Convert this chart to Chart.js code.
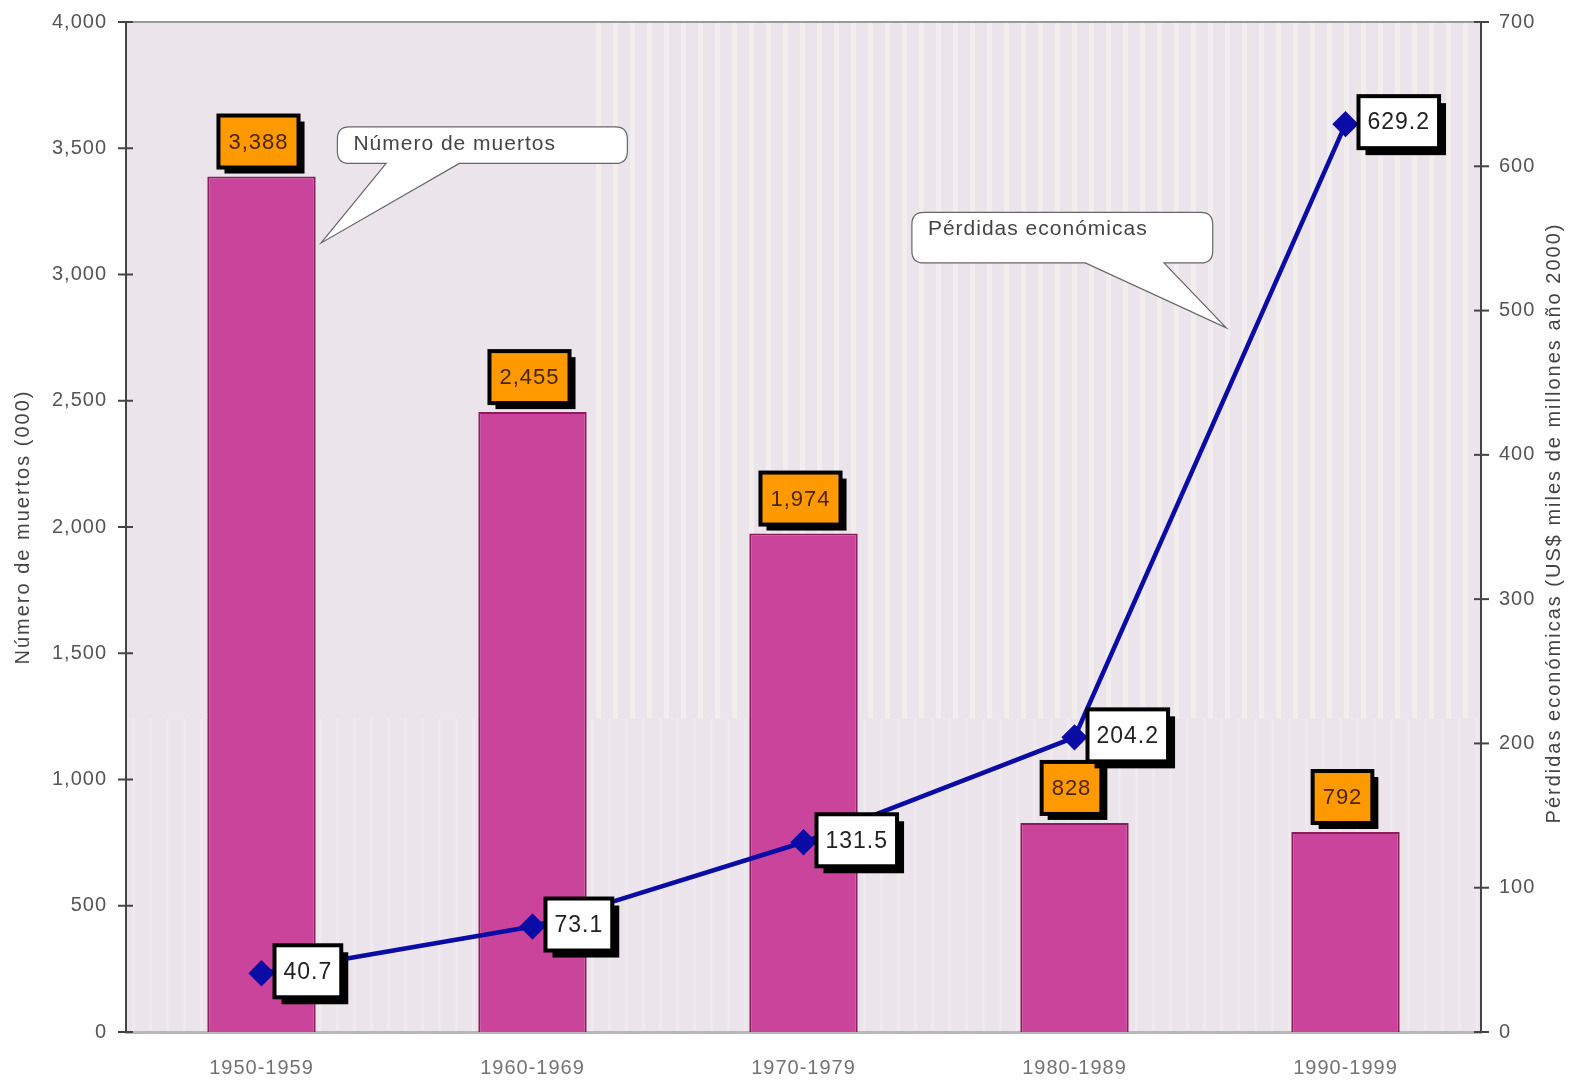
<!DOCTYPE html>
<html>
<head>
<meta charset="utf-8">
<script src="https://cdn.jsdelivr.net/npm/chart.js@4.4.1/dist/chart.umd.min.js"></script>
<style>
  html, body { margin: 0; padding: 0; background: #fff; }
  canvas { display: block; }
</style>
</head>
<body>
<canvas id="desastres" width="1575" height="1080"></canvas>
<script>
const categories = ['1950-1959', '1960-1969', '1970-1979', '1980-1989', '1990-1999'];
const muertos = [3388, 2455, 1974, 828, 792];            // miles
const perdidas = [40.7, 73.1, 131.5, 204.2, 629.2];      // US$ miles de millones
const muertosTicks = [0, 500, 1000, 1500, 2000, 2500, 3000, 3500, 4000];
const perdidasTicks = [0, 100, 200, 300, 400, 500, 600, 700];

const FONT = "'Liberation Sans', Arial, sans-serif";

// globos de texto: posición en unidades de categoría (x) y de valor del eje (y)
const globos = [
  { text: 'Número de muertos', axis: 'y', x0: 0.28, x1: 1.35, yTop: 3585, yBot: 3440,
    base0: 0.46, base1: 0.73, tipX: 0.22, tipY: 3125 },
  { text: 'Pérdidas económicas', axis: 'y1', x0: 2.40, x1: 3.51, yTop: 568, yBot: 533,
    base0: 3.04, base1: 3.33, tipX: 3.56, tipY: 488 }
];

function caja(ctx, x, y, w, h, fill, shadow) {
  ctx.fillStyle = '#000';
  ctx.fillRect(x + shadow, y + shadow, w, h);
  ctx.fillStyle = fill;
  ctx.fillRect(x, y, w, h);
  ctx.lineWidth = 4;
  ctx.strokeStyle = '#000';
  ctx.strokeRect(x, y, w, h);
}

const decor = {
  id: 'decor',
  beforeDraw(chart) {
    const { ctx, chartArea: a } = chart;
    ctx.save();
    ctx.fillStyle = '#ebe5eb';
    ctx.fillRect(a.left, a.top, a.width, a.height);
    // franjas verticales claras en la parte derecha
    ctx.fillStyle = 'rgba(250,248,240,0.5)';
    for (let x = a.left + 470; x < a.right; x += 17) {
      ctx.fillRect(x, a.top, 5, a.height * 0.69);
    }
    // trama inferior
    ctx.fillStyle = 'rgba(250,250,250,0.25)';
    for (let x = a.left + 6; x < a.right; x += 17) {
      ctx.fillRect(x, a.top + a.height * 0.69, 3, a.height * 0.31);
    }
    ctx.restore();
    ctx.letterSpacing = '1px';
  },
  afterDatasetsDraw(chart) {
    const { ctx, chartArea: a, scales } = chart;
    const xs = scales.x, yl = scales.y, yr = scales.y1;
    ctx.save();

    // borde superior del área
    ctx.strokeStyle = '#9a9a9a';
    ctx.lineWidth = 2;
    ctx.beginPath(); ctx.moveTo(a.left, a.top); ctx.lineTo(a.right, a.top); ctx.stroke();

    // marcas cruzadas en los ejes
    ctx.strokeStyle = '#444';
    ctx.lineWidth = 2;
    muertosTicks.forEach(v => {
      const py = yl.getPixelForValue(v);
      ctx.beginPath(); ctx.moveTo(a.left - 8, py); ctx.lineTo(a.left + 7, py); ctx.stroke();
    });
    perdidasTicks.forEach(v => {
      const py = yr.getPixelForValue(v);
      ctx.beginPath(); ctx.moveTo(a.right - 7, py); ctx.lineTo(a.right + 8, py); ctx.stroke();
    });

    // globos
    const idx = i => xs.getPixelForValue(0) + i * (xs.getPixelForValue(1) - xs.getPixelForValue(0));
    globos.forEach(g => {
      const ys = scales[g.axis];
      const l = idx(g.x0), r = idx(g.x1), t = ys.getPixelForValue(g.yTop), b = ys.getPixelForValue(g.yBot);
      const rad = 12;
      ctx.beginPath();
      ctx.moveTo(l + rad, t);
      ctx.lineTo(r - rad, t);
      ctx.quadraticCurveTo(r, t, r, t + rad);
      ctx.lineTo(r, b - rad);
      ctx.quadraticCurveTo(r, b, r - rad, b);
      ctx.lineTo(idx(g.base1), b);
      ctx.lineTo(idx(g.tipX), ys.getPixelForValue(g.tipY));
      ctx.lineTo(idx(g.base0), b);
      ctx.lineTo(l + rad, b);
      ctx.quadraticCurveTo(l, b, l, b - rad);
      ctx.lineTo(l, t + rad);
      ctx.quadraticCurveTo(l, t, l + rad, t);
      ctx.closePath();
      ctx.fillStyle = '#fff';
      ctx.fill();
      ctx.strokeStyle = '#666';
      ctx.lineWidth = 1.2;
      ctx.stroke();
      ctx.fillStyle = '#444';
      ctx.font = '21px ' + FONT;
      ctx.textAlign = 'left';
      ctx.textBaseline = 'middle';
      ctx.fillText(g.text, l + 16, t + 17);
    });

    // etiquetas de las barras
    ctx.font = '22px ' + FONT;
    ctx.textAlign = 'center';
    ctx.textBaseline = 'middle';
    chart.getDatasetMeta(0).data.forEach((el, i) => {
      const txt = muertos[i].toLocaleString('en-US');
      const w = ctx.measureText(txt).width + 20, h = 52;
      const bx = el.x - w / 2 - 3, by = el.y - h - 9;
      caja(ctx, bx, by, w, h, '#ff9900', 6);
      ctx.fillStyle = '#4a2600';
      ctx.fillText(txt, bx + w / 2, by + h / 2 + 1);
    });

    // etiquetas de la línea
    ctx.font = '23px ' + FONT;
    chart.getDatasetMeta(1).data.forEach((el, i) => {
      const txt = perdidas[i].toFixed(1);
      const w = ctx.measureText(txt).width + 18, h = 52;
      const bx = el.x + 13, by = el.y - h / 2 - 2;
      caja(ctx, bx, by, w, h, '#fff', 7);
      ctx.fillStyle = '#222';
      ctx.fillText(txt, bx + w / 2, by + h / 2 + 1);
    });

    // títulos de los ejes
    ctx.fillStyle = '#444';
    ctx.font = '20px ' + FONT;
    ctx.letterSpacing = '2px';
    ctx.textAlign = 'center';
    const cy = (a.top + a.bottom) / 2;
    ctx.save();
    ctx.translate(23, cy); ctx.rotate(-Math.PI / 2);
    ctx.fillText('Número de muertos (000)', 0, 0);
    ctx.restore();
    ctx.save();
    ctx.translate(1554, cy - 4); ctx.rotate(-Math.PI / 2);
    ctx.fillText('Pérdidas económicas (US$ miles de millones año 2000)', 0, 0);
    ctx.restore();

    ctx.restore();
  }
};

const ajustarY = w => s => { s.width = w; s.paddingTop = 0; s.paddingBottom = 0; };

new Chart(document.getElementById('desastres').getContext('2d'), {
  data: {
    labels: categories,
    datasets: [
      {
        type: 'bar',
        label: 'Número de muertos',
        data: muertos,
        yAxisID: 'y',
        backgroundColor: '#c9449a',
        borderColor: '#8a1d5c',
        borderWidth: 2,
        barPercentage: 0.4,
        categoryPercentage: 1,
        order: 2
      },
      {
        type: 'line',
        label: 'Pérdidas económicas',
        data: perdidas,
        yAxisID: 'y1',
        borderColor: '#0b0ba6',
        backgroundColor: '#0b0ba6',
        borderWidth: 4.5,
        pointStyle: 'rectRot',
        pointRadius: 10,
        pointHoverRadius: 10,
        tension: 0,
        order: 1
      }
    ]
  },
  options: {
    responsive: false,
    animation: false,
    devicePixelRatio: 1,
    layout: { padding: { top: 22, left: 0, right: 0, bottom: 0 } },
    plugins: { legend: { display: false }, tooltip: { enabled: false } },
    scales: {
      x: {
        type: 'category',
        offset: true,
        grid: { display: false, drawTicks: false },
        border: { color: '#b8b8b8', width: 3 },
        ticks: { color: '#737373', font: { family: FONT, size: 20 }, padding: 24, maxRotation: 0 },
        afterFit: s => { s.height = 48; s.paddingLeft = 0; s.paddingRight = 0; }
      },
      y: {
        position: 'left',
        min: 0, max: 4000,
        afterBuildTicks: s => { s.ticks = muertosTicks.map(v => ({ value: v })); },
        grid: { display: false, drawTicks: false },
        border: { color: '#444', width: 2 },
        ticks: { color: '#555', font: { family: FONT, size: 20 }, padding: 19,
                 callback: v => v.toLocaleString('en-US') },
        afterFit: ajustarY(126)
      },
      y1: {
        position: 'right',
        min: 0, max: 700,
        afterBuildTicks: s => { s.ticks = perdidasTicks.map(v => ({ value: v })); },
        grid: { display: false, drawTicks: false },
        border: { color: '#444', width: 2 },
        ticks: { color: '#555', font: { family: FONT, size: 20 }, padding: 18 },
        afterFit: ajustarY(94)
      }
    }
  },
  plugins: [decor]
});
</script>
</body>
</html>
